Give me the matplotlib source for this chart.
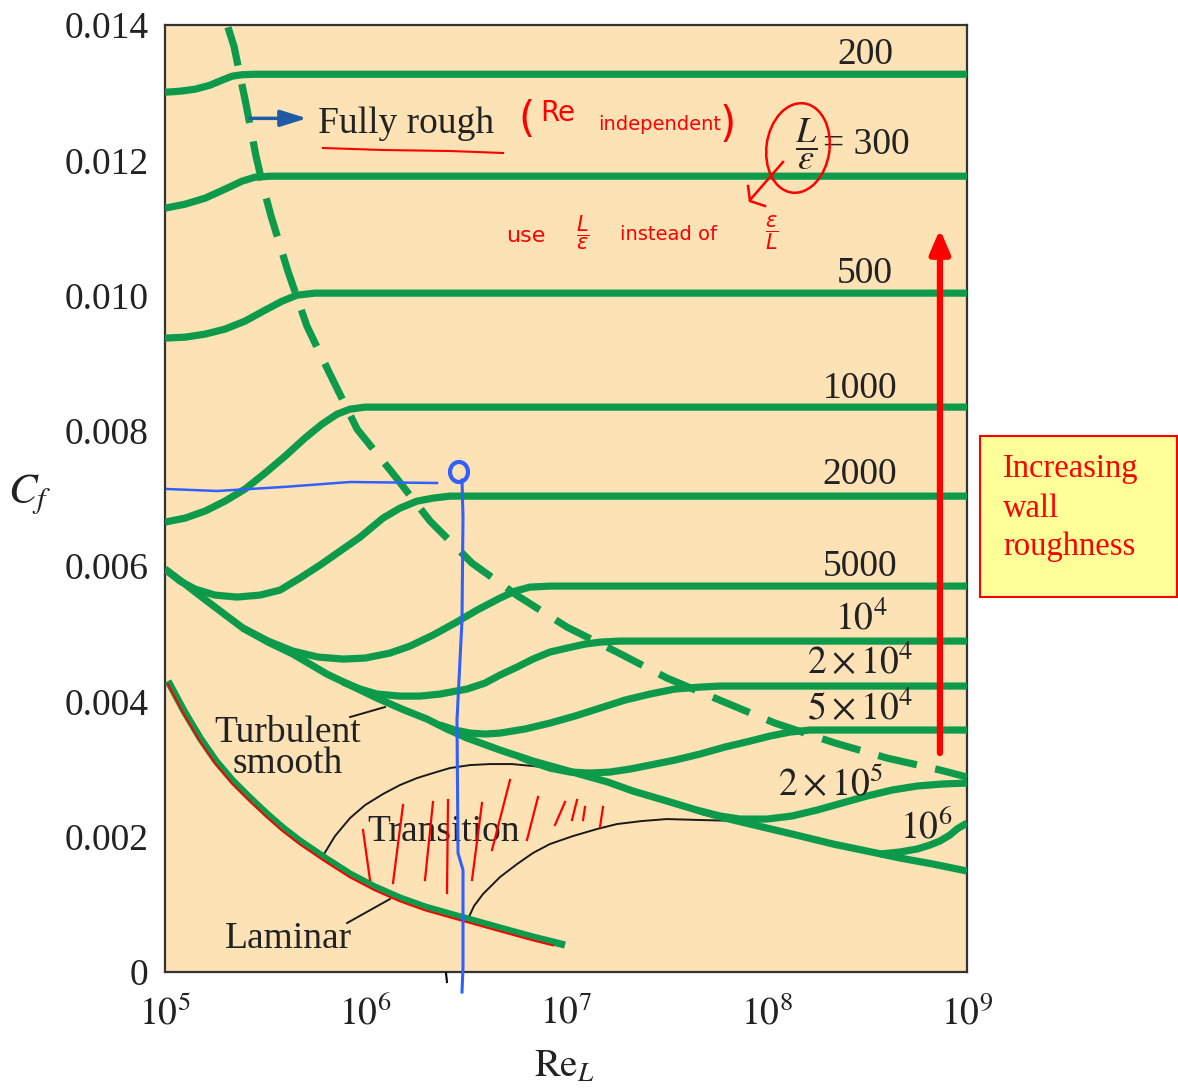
import numpy as np
import matplotlib
matplotlib.use('Agg')
import matplotlib.pyplot as plt
import matplotlib.transforms as mtransforms
from matplotlib.patches import Ellipse, Rectangle

plt.rcParams['font.family'] = ['Liberation Serif', 'DejaVu Serif']
plt.rcParams['mathtext.fontset'] = 'stix'

W, H = 1178, 1090
VERDE = '#0D9B4B'
FONDO = '#FCE2B5'

# ---- Curvas: x = log10(Re_L), y = Cf en unidades de 1e-3 ----
# L/eps = 200, 300, 500, 1000, 2000 (parten del borde izquierdo)
r200_x = [5.000, 5.075, 5.150, 5.224, 5.284, 5.334, 5.384, 5.449, 9.000]
r200_y = [13.006, 13.021, 13.051, 13.110, 13.184, 13.243, 13.265, 13.272, 13.272]
r300_x = [5.000, 5.100, 5.200, 5.299, 5.384, 5.449, 5.524, 9.000]
r300_y = [11.292, 11.351, 11.440, 11.573, 11.691, 11.750, 11.765, 11.765]
r500_x = [5.000, 5.100, 5.200, 5.299, 5.399, 5.499, 5.584, 5.658, 5.748, 9.000]
r500_y = [9.371, 9.385, 9.430, 9.504, 9.622, 9.784, 9.917, 10.006, 10.036, 10.036]
r1000_x = [5.000, 5.100, 5.200, 5.299, 5.399, 5.499, 5.599, 5.698, 5.783, 5.858, 5.923, 5.998, 9.000]
r1000_y = [6.651, 6.710, 6.814, 6.961, 7.139, 7.375, 7.626, 7.893, 8.099, 8.247, 8.321, 8.351, 8.351]
r2000_x = [5.000, 5.075, 5.150, 5.249, 5.359, 5.474, 5.574, 5.673, 5.773, 5.873, 5.973, 6.087,
           6.172, 6.257, 6.337, 6.421, 6.521, 9.000]
r2000_y = [5.956, 5.779, 5.661, 5.572, 5.543, 5.572, 5.646, 5.823, 6.015, 6.222, 6.429, 6.710,
           6.858, 6.961, 7.006, 7.035, 7.035, 7.035]
# ramas que salen de la curva lisa
r5000_x = [5.389, 5.514, 5.638, 5.763, 5.888, 5.998, 6.122, 6.222, 6.337, 6.446, 6.556, 6.671,
           6.746, 6.820, 6.920, 9.000]
r5000_y = [5.084, 4.892, 4.744, 4.656, 4.626, 4.641, 4.715, 4.818, 4.981, 5.158, 5.350, 5.528,
           5.631, 5.690, 5.705, 5.705]
r1e4_x = [5.888, 5.973, 6.057, 6.172, 6.272, 6.372, 6.506, 6.596, 6.671, 6.756, 6.835, 6.920,
          7.005, 7.095, 7.170, 7.269, 9.000]
r1e4_y = [4.286, 4.183, 4.109, 4.079, 4.079, 4.109, 4.183, 4.271, 4.390, 4.508, 4.626, 4.730,
          4.789, 4.848, 4.877, 4.892, 4.892]
r2e4_x = [6.372, 6.446, 6.521, 6.596, 6.671, 6.795, 6.920, 7.045, 7.170, 7.294, 7.419, 7.543,
          7.668, 7.768, 9.000]
r2e4_y = [3.651, 3.577, 3.532, 3.518, 3.532, 3.592, 3.680, 3.784, 3.902, 4.020, 4.109, 4.183,
          4.212, 4.227, 4.227]
r5e4_x = [6.771, 6.845, 6.920, 7.020, 7.120, 7.219, 7.319, 7.419, 7.543, 7.668, 7.793, 7.918,
          8.017, 8.117, 8.217, 8.317, 9.000]
r5e4_y = [3.178, 3.089, 3.015, 2.956, 2.941, 2.956, 3.000, 3.059, 3.133, 3.222, 3.326, 3.414,
          3.488, 3.547, 3.577, 3.577, 3.577]
r2e5_x = [7.668, 7.768, 7.868, 8.002, 8.127, 8.252, 8.377, 8.501, 8.626, 8.751, 8.875, 9.000]
r2e5_y = [2.380, 2.306, 2.261, 2.261, 2.306, 2.394, 2.498, 2.601, 2.690, 2.749, 2.779, 2.793]
r1e6_x = [8.566, 8.666, 8.751, 8.815, 8.865, 8.915, 8.950, 9.000]
r1e6_y = [1.744, 1.774, 1.818, 1.877, 1.936, 2.025, 2.114, 2.202]

# turbulento liso y laminar
liso_x = [5.000, 5.100, 5.190, 5.289, 5.389, 5.514, 5.638, 5.723, 5.808, 5.933, 6.057, 6.182,
          6.307, 6.406, 6.506, 6.671, 6.835, 6.960, 7.085, 7.209, 7.334, 7.504, 7.668, 7.793,
          7.918, 8.127, 8.332, 8.501, 8.666, 8.830, 9.000]
liso_y = [5.956, 5.735, 5.528, 5.306, 5.084, 4.877, 4.700, 4.552, 4.404, 4.227, 4.050, 3.887,
          3.739, 3.592, 3.459, 3.281, 3.119, 3.015, 2.912, 2.808, 2.675, 2.527, 2.380, 2.276,
          2.187, 2.040, 1.892, 1.788, 1.685, 1.596, 1.493]
lam_x = [5.015, 5.095, 5.175, 5.254, 5.339, 5.424, 5.509, 5.589, 5.673, 5.798, 5.923, 6.047,
         6.172, 6.297, 6.421, 6.546, 6.671, 6.835, 6.995]
lam_y = [4.301, 3.858, 3.459, 3.119, 2.823, 2.572, 2.335, 2.128, 1.936, 1.685, 1.448, 1.256,
         1.094, 0.961, 0.857, 0.754, 0.650, 0.517, 0.399]

# transicion (lineas negras finas)
trans1_x = [5.793, 5.848, 5.923, 5.998, 6.087, 6.172, 6.257, 6.337, 6.421, 6.521, 6.621, 6.731,
            6.835, 6.920, 6.970]
trans1_y = [1.744, 2.010, 2.276, 2.468, 2.631, 2.764, 2.867, 2.941, 3.015, 3.059, 3.074, 3.074,
            3.045, 3.015, 3.000]
trans2_x = [6.511, 6.541, 6.586, 6.671, 6.756, 6.835, 6.920, 7.035, 7.155, 7.254, 7.379, 7.504,
            7.668, 7.868]
trans2_y = [0.783, 0.975, 1.153, 1.404, 1.596, 1.759, 1.892, 2.010, 2.114, 2.187, 2.232, 2.261,
            2.247, 2.232]

# limite totalmente rugoso (discontinua)
rugoso_x = [5.314, 5.344, 5.404, 5.454, 5.489, 5.529, 5.613, 5.708, 5.823, 5.958, 6.147, 6.322,
            6.531, 6.761, 7.005, 7.254, 7.504, 7.778, 8.042, 8.342, 8.601, 8.865, 9.000]
rugoso_y = [13.967, 13.686, 12.829, 12.060, 11.617, 11.174, 10.361, 9.548, 8.838, 8.026, 7.331,
            6.666, 6.045, 5.557, 5.099, 4.730, 4.345, 4.005, 3.680, 3.385, 3.163, 2.986, 2.882]

curvas = [(r200_x, r200_y), (r300_x, r300_y), (r500_x, r500_y), (r1000_x, r1000_y),
          (r2000_x, r2000_y), (r5000_x, r5000_y), (r1e4_x, r1e4_y), (r2e4_x, r2e4_y),
          (r5e4_x, r5e4_y), (r2e5_x, r2e5_y), (r1e6_x, r1e6_y), (liso_x, liso_y), (lam_x, lam_y)]

# etiquetas de L/eps: (texto, log10 Re, Cf de la linea base x 1e-3)
etiquetas = [('200', 8.491, 13.42), ('500', 8.491, 10.18), ('1000', 8.466, 8.48),
             ('2000', 8.466, 7.21), ('5000', 8.466, 5.85), (r'$10^4$', 8.471, 5.07),
             (r'$2 \times 10^4$', 8.466, 4.40), (r'$5 \times 10^4$', 8.466, 3.72),
             (r'$2 \times 10^5$', 8.322, 2.60), (r'$10^6$', 8.796, 1.97)]

y_ticks = [0, 0.002, 0.004, 0.006, 0.008, 0.010, 0.012, 0.014]
y_labels = ['0', '0.002', '0.004', '0.006', '0.008', '0.010', '0.012', '0.014']
x_exp = [5, 6, 7, 8, 9]

# ---- trazos a mano sobre la figura (pixeles de la imagen) ----
subrayado = ([323, 383, 450, 503], [148, 150, 151, 153])
azul_h = ([167, 217, 283, 350, 437], [489, 491, 487, 482, 483])
azul_v = ([462, 463, 462, 457, 458, 463, 463, 462], [480, 517, 620, 720, 853, 870, 967, 992])
rayas = [((363, 830), (370, 880)), ((403, 805), (393, 883)), ((433, 802), (425, 880)),
         ((448, 800), (447, 893)), ((482, 803), (472, 880)), ((510, 780), (492, 850)),
         ((538, 797), (527, 840)), ((565, 802), (555, 825)), ((577, 800), (572, 820)),
         ((585, 807), (583, 820)), ((603, 807), (600, 827))]


def re(v):
    return 10 ** np.asarray(v, dtype=float)


def cf(v):
    return np.asarray(v, dtype=float) * 1e-3


fig = plt.figure(figsize=(W / 100, H / 100), dpi=100)
ax = fig.add_axes([165 / W, 1 - 972 / H, (967 - 165) / W, (972 - 25) / H])
ax.set_facecolor(FONDO)
pix = mtransforms.Affine2D().scale(1 / W, -1 / H).translate(0, 1) + fig.transFigure

for cx, cy in curvas:
    ax.plot(re(cx), cf(cy), color=VERDE, lw=5.2, solid_capstyle='butt', solid_joinstyle='round', zorder=3)
ax.plot(re(rugoso_x), cf(rugoso_y), color=VERDE, lw=5.2, ls=(0, (5.5, 2.6)), zorder=3)
ax.plot(re(trans1_x), cf(trans1_y), color='#1a1a1a', lw=1.4, zorder=2)
ax.plot(re(trans2_x), cf(trans2_y), color='#1a1a1a', lw=1.4, zorder=2)

# textos del grafico
TXT = '#222222'
for txt, lx, y in etiquetas:
    ax.text(10 ** lx, y * 1e-3, txt, ha='center', va='baseline', fontsize=27, color=TXT, zorder=5)
ax.text(10 ** 8.197, 0.01224, r'$\dfrac{L}{\varepsilon}$', ha='center', va='center', fontsize=26, color=TXT)
ax.text(10 ** 8.282, 0.01209, '= 300', ha='left', va='baseline', fontsize=27, color=TXT)
ax.text(10 ** 5.763, 0.01240, 'Fully rough', ha='left', va='baseline', fontsize=27, color=TXT)
ax.annotate('', xy=(10 ** 5.708, 0.01262), xytext=(10 ** 5.424, 0.01262),
            arrowprops=dict(arrowstyle='-|>,head_width=0.25,head_length=0.8', color='#1f5aa6',
                            lw=2.5, mutation_scale=20, shrinkA=0, shrinkB=0))
ax.text(10 ** 5.613, 0.002941, 'Turbulent\nsmooth', ha='center', va='baseline', multialignment='center',
        linespacing=0.86, fontsize=27, color=TXT)
ax.text(10 ** 6.387, 0.001936, 'Transition', ha='center', va='baseline', fontsize=27, color=TXT, zorder=4)
ax.text(10 ** 5.618, 0.000355, 'Laminar', ha='center', va='baseline', fontsize=27, color=TXT)
ax.plot(re([5.923, 6.097]), [0.003769, 0.003917], color='#1a1a1a', lw=1.4)
ax.plot(re([5.908, 6.122]), [0.000724, 0.001079], color='#1a1a1a', lw=1.4)

# flecha roja de rugosidad creciente
ax.annotate('', xy=(10 ** 8.865, 0.01098), xytext=(10 ** 8.865, 0.003237),
            arrowprops=dict(arrowstyle='-|>,head_width=0.3,head_length=0.7', color='red',
                            lw=4.5, mutation_scale=20, shrinkA=0, shrinkB=0), zorder=6)

# ejes
ax.set_xscale('log')
ax.set_xlim(1e5, 1e9)
ax.set_ylim(0, 0.014)
ax.set_xticks([10.0 ** e for e in x_exp])
ax.set_xticklabels([r'$10^{%d}$' % e for e in x_exp])
ax.xaxis.set_minor_locator(matplotlib.ticker.NullLocator())
ax.set_yticks(y_ticks)
ax.set_yticklabels(y_labels)
ax.tick_params(axis='both', length=0, labelsize=27, colors=TXT)
ax.tick_params(axis='y', pad=12)
ax.tick_params(axis='x', pad=17)
for s in ax.spines.values():
    s.set_color('#333333')
    s.set_linewidth(1.6)

fig.text(565, 1077, r'$\mathrm{Re}_L$', transform=pix, ha='center', va='baseline', fontsize=28, color=TXT)
fig.text(30, 495, r'$C_f$', transform=pix, ha='center', va='center', fontsize=31, color=TXT)

# recuadro amarillo
fig.add_artist(Rectangle((980, 597), 197, -161, transform=pix, facecolor='#FFFF99',
                         edgecolor='red', lw=1.5))
for txt, yb in [('Increasing', 477), ('wall', 517), ('roughness', 555)]:
    fig.text(1003, yb, txt, transform=pix, ha='left', va='baseline', fontsize=23.5, color='red')

# ---- anotaciones a mano ----
mano = dict(family='DejaVu Sans', color='red')
fig.add_artist(plt.Line2D(*subrayado, transform=pix, color='red', lw=1.5))
fig.text(527, 120, '(', transform=pix, ha='center', va='center', fontsize=30, **mano)
fig.text(558, 113, 'Re', transform=pix, ha='center', va='center', fontsize=20, **mano)
fig.text(660, 125, 'independent', transform=pix, ha='center', va='center', fontsize=14, **mano)
fig.text(728, 125, ')', transform=pix, ha='center', va='center', fontsize=30, **mano)
fig.text(526, 236, 'use', transform=pix, ha='center', va='center', fontsize=16, **mano)
fig.text(583, 233, r'$\dfrac{L}{\varepsilon}$', transform=pix, ha='center', va='center', fontsize=15,
         math_fontfamily='dejavusans', **mano)
fig.text(668, 234, 'instead of', transform=pix, ha='center', va='center', fontsize=14, **mano)
fig.text(772, 233, r'$\dfrac{\varepsilon}{L}$', transform=pix, ha='center', va='center', fontsize=15,
         math_fontfamily='dejavusans', **mano)
fig.add_artist(Ellipse((798, 148), 63, 90, angle=8, transform=pix, fill=False, edgecolor='red', lw=1.8))
fig.add_artist(plt.Line2D([783, 750], [162, 200], transform=pix, color='red', lw=1.8))
fig.add_artist(plt.Line2D([748, 750, 765], [186, 201, 206], transform=pix, color='red', lw=1.8))
for (x0, y0), (x1, y1) in rayas:
    fig.add_artist(plt.Line2D([x0, x1], [y0, y1], transform=pix, color='red', lw=1.6))
# linea roja sobre la laminar (trazada a mano, algo por debajo)
ax.plot(re(lam_x[:-1] + [6.935]), cf(lam_y[:-1] + [0.443]) - 0.00005, color='red', lw=1.4, zorder=4)

# trazos azules
fig.add_artist(plt.Line2D(*azul_h, transform=pix, color='#3060ff', lw=1.8))
fig.add_artist(plt.Line2D(*azul_v, transform=pix, color='#3060ff', lw=2.2))
fig.add_artist(Ellipse((459, 472), 18, 20, transform=pix, fill=False, edgecolor='#3060ff', lw=3))
fig.add_artist(plt.Line2D([446, 447], [973, 982], transform=pix, color='black', lw=1.5))

fig.savefig('out.png', dpi=100, facecolor='white')
